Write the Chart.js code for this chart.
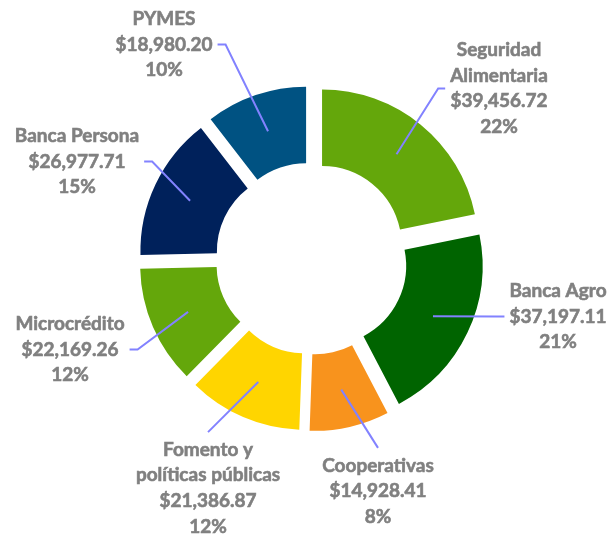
<!DOCTYPE html>
<html>
<head>
<meta charset="utf-8">
<script src="https://cdn.jsdelivr.net/npm/chart.js@4.4.1/dist/chart.umd.min.js"></script>
<style>
  body { margin: 0; background: #fff; }
  #wrap { width: 609px; height: 536px; }
</style>
</head>
<body>
<div id="wrap"><canvas id="mycanvas" width="609" height="536"></canvas></div>
<script>
// data
var categories = ['Seguridad Alimentaria', 'Banca Agro', 'Cooperativas', 'Fomento y políticas públicas', 'Microcrédito', 'Banca Persona', 'PYMES'];
var amounts = [39456.72, 37197.11, 14928.41, 21386.87, 22169.26, 26977.71, 18980.20];
var colors = ['#64a70b', '#006400', '#f8931d', '#ffd500', '#64a70b', '#00215b', '#005282'];

// how long names are broken in the labels
var wrapNames = {
  'Seguridad Alimentaria': ['Seguridad', 'Alimentaria'],
  'Fomento y políticas públicas': ['Fomento y', 'políticas públicas']
};
// label block centre relative to chart centre, and which side the leader enters
var labelLayout = [
  [187.5, -170, 'left'],
  [246.5, 58, 'left'],
  [66.5, 232.5, 'top'],
  [-103.5, 229.5, 'top'],
  [-241.5, 91, 'right'],
  [-234.5, -97, 'right'],
  [-147.5, -214, 'right']
];

var EXPLODE = 16.7;
var LINE_H = 25.6;
var total = amounts.reduce(function(a, b){ return a + b; }, 0);

function money(v) {
  return '$' + v.toLocaleString('en-US', {minimumFractionDigits: 2, maximumFractionDigits: 2});
}

// draw every slice pushed out along its own bisector (like an exploded pie)
var explodePlugin = {
  id: 'explode',
  beforeDatasetDraw: function(chart, args) {
    var ctx = chart.ctx;
    args.meta.data.forEach(function(arc){
      var mid = (arc.startAngle + arc.endAngle) / 2;
      ctx.save();
      ctx.translate(Math.cos(mid) * EXPLODE, Math.sin(mid) * EXPLODE);
      arc.draw(ctx);
      ctx.restore();
    });
    return false;
  }
};

var labelPlugin = {
  id: 'sliceLabels',
  afterDraw: function(chart) {
    var ctx = chart.ctx;
    var area = chart.chartArea;
    var cx = (area.left + area.right) / 2;
    var cy = (area.top + area.bottom) / 2;
    var arcs = chart.getDatasetMeta(0).data;
    ctx.save();
    ctx.font = 'bold 19px Lato';
    ctx.textAlign = 'center';
    ctx.textBaseline = 'middle';
    arcs.forEach(function(arc, i){
      var name = categories[i];
      var lines = (wrapNames[name] || [name]).concat([money(amounts[i]), Math.round(amounts[i] / total * 100) + '%']);
      var lay = labelLayout[i];
      var bx = cx + lay[0], by = cy + lay[1];
      var w = 0;
      lines.forEach(function(l){ w = Math.max(w, ctx.measureText(l).width); });
      var firstY = by - (lines.length - 1) * LINE_H / 2;

      // leader line: from middle of the ring of the moved slice to the label
      var mid = (arc.startAngle + arc.endAngle) / 2;
      var r = (arc.innerRadius + arc.outerRadius) / 2;
      var ax = arc.x + Math.cos(mid) * (r + EXPLODE);
      var ay = arc.y + Math.sin(mid) * (r + EXPLODE);
      ctx.strokeStyle = '#8282ff';
      ctx.lineWidth = 2;
      ctx.beginPath();
      ctx.moveTo(ax, ay);
      if (lay[2] === 'top') {
        ctx.lineTo(bx, firstY - 17.5);
      } else if (lay[2] === 'left') {
        ctx.lineTo(bx - w / 2 - 12, by);
        ctx.lineTo(bx - w / 2 - 5, by);
      } else {
        ctx.lineTo(bx + w / 2 + 13, by);
        ctx.lineTo(bx + w / 2 + 5, by);
      }
      ctx.stroke();

      // a thin outline on the text makes it as heavy as the original
      ctx.fillStyle = '#808080';
      ctx.strokeStyle = '#808080';
      ctx.lineWidth = 0.6;
      lines.forEach(function(l, k){
        ctx.fillText(l, bx, firstY + k * LINE_H);
        ctx.strokeText(l, bx, firstY + k * LINE_H);
      });
    });
    ctx.restore();
  }
};

var chartdata = {
  labels: categories,
  datasets: [{
    data: amounts,
    backgroundColor: colors,
    borderWidth: 0
  }]
};

var ctx = document.getElementById('mycanvas');
var DonutGraph = new Chart(ctx, {
  type: 'doughnut',
  data: chartdata,
  options: {
    responsive: false,
    animation: false,
    radius: 156,
    cutout: '51%',
    layout: { padding: { left: 14, right: 0, top: 0, bottom: 19 } },
    plugins: {
      legend: { display: false },
      tooltip: { enabled: false }
    }
  },
  plugins: [explodePlugin, labelPlugin]
});
</script>
</body>
</html>
